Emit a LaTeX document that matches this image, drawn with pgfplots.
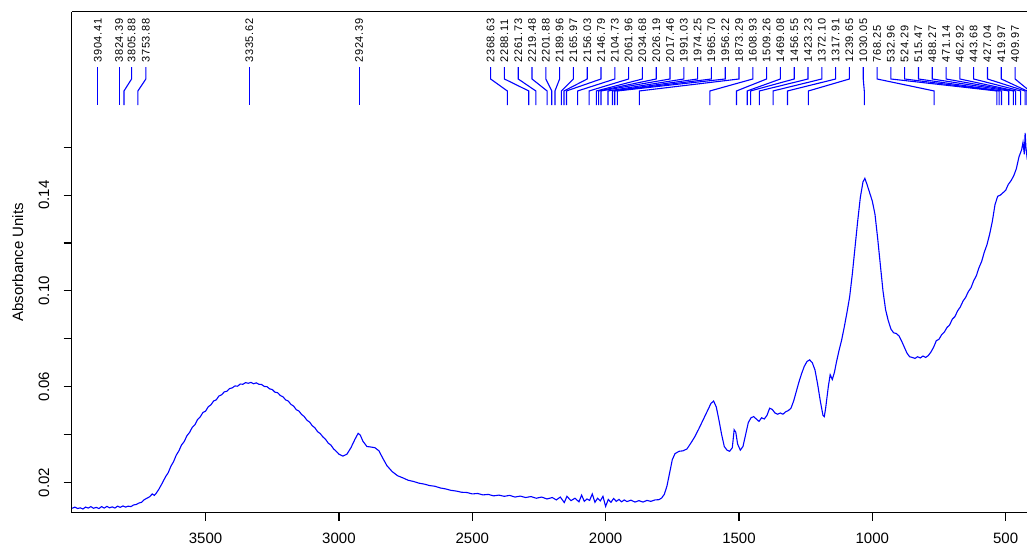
\documentclass[border=0pt]{standalone}
\usepackage{fontspec}
\setmainfont{Liberation Sans}
\newfontfamily\pkfont[LetterSpace=6]{Liberation Sans}
\usepackage{pgfplots}
\pgfplotsset{compat=1.18}
\usepackage{pgfplotstable}

% IR spectrum, wavenumber (cm-1) vs absorbance
\pgfplotstableread{
wn abs
4000 0.0092
3990 0.0097
3980 0.0091
3970 0.0094
3960 0.0089
3950 0.0097
3940 0.0093
3930 0.0099
3920 0.0092
3910 0.0096
3900 0.0091
3890 0.0099
3880 0.0093
3870 0.0100
3860 0.0094
3850 0.0098
3840 0.0093
3830 0.0101
3820 0.0096
3810 0.0102
3800 0.0097
3790 0.0101
3780 0.0099
3770 0.0106
3760 0.0108
3750 0.0114
3740 0.0117
3730 0.0128
3720 0.0134
3710 0.0140
3700 0.0152
3692 0.0146
3685 0.0155
3675 0.0172
3665 0.0192
3650 0.0224
3640 0.0241
3630 0.0268
3620 0.0287
3610 0.0314
3600 0.0332
3590 0.0357
3580 0.0371
3570 0.0395
3560 0.0409
3550 0.0430
3540 0.0441
3530 0.0463
3520 0.0474
3510 0.0492
3500 0.0498
3490 0.0516
3480 0.0524
3470 0.0540
3460 0.0545
3450 0.0561
3440 0.0566
3430 0.0578
3420 0.0581
3410 0.0592
3400 0.0595
3390 0.0603
3380 0.0602
3370 0.0611
3360 0.0610
3350 0.0617
3340 0.0614
3330 0.0618
3320 0.0612
3310 0.0616
3300 0.0610
3290 0.0609
3280 0.0601
3270 0.0600
3260 0.0591
3250 0.0588
3240 0.0577
3230 0.0575
3220 0.0563
3210 0.0558
3200 0.0545
3190 0.0540
3180 0.0526
3170 0.0519
3160 0.0504
3150 0.0498
3140 0.0484
3130 0.0475
3120 0.0460
3110 0.0452
3100 0.0437
3090 0.0428
3080 0.0412
3070 0.0404
3060 0.0390
3050 0.0380
3040 0.0364
3030 0.0356
3020 0.0340
3010 0.0330
3000 0.0318
2985 0.0310
2970 0.0318
2955 0.0345
2940 0.0380
2928 0.0405
2920 0.0398
2910 0.0372
2895 0.0350
2880 0.0348
2865 0.0345
2850 0.0332
2835 0.0300
2820 0.0270
2800 0.0245
2780 0.0228
2760 0.0219
2740 0.0209
2720 0.0204
2700 0.0197
2680 0.0193
2660 0.0187
2640 0.0184
2620 0.0177
2600 0.0173
2580 0.0167
2560 0.0164
2540 0.0159
2520 0.0158
2500 0.0152
2480 0.0154
2460 0.0148
2440 0.0150
2420 0.0144
2400 0.0147
2380 0.0142
2360 0.0146
2340 0.0139
2320 0.0143
2300 0.0137
2280 0.0141
2260 0.0134
2240 0.0139
2220 0.0131
2200 0.0137
2185 0.0127
2170 0.0139
2155 0.0116
2145 0.0142
2130 0.0124
2115 0.0134
2100 0.0119
2090 0.0147
2080 0.0121
2070 0.0131
2060 0.0125
2050 0.0152
2040 0.0117
2030 0.0134
2020 0.0123
2010 0.0142
2000 0.0100
1990 0.0129
1980 0.0117
1970 0.0133
1960 0.0121
1950 0.0129
1940 0.0119
1930 0.0127
1920 0.0120
1905 0.0126
1890 0.0118
1875 0.0124
1860 0.0118
1845 0.0125
1830 0.0121
1815 0.0127
1800 0.0128
1790 0.0135
1780 0.0150
1770 0.0185
1760 0.0240
1750 0.0295
1740 0.0320
1725 0.0330
1710 0.0332
1695 0.0340
1680 0.0365
1665 0.0392
1650 0.0425
1635 0.0460
1620 0.0495
1605 0.0530
1595 0.0540
1585 0.0515
1575 0.0460
1565 0.0400
1555 0.0350
1545 0.0335
1535 0.0330
1525 0.0345
1518 0.0420
1512 0.0410
1505 0.0360
1495 0.0335
1485 0.0350
1475 0.0400
1465 0.0450
1455 0.0470
1445 0.0475
1435 0.0465
1425 0.0455
1415 0.0470
1405 0.0465
1395 0.0480
1385 0.0510
1375 0.0505
1365 0.0490
1355 0.0485
1345 0.0490
1335 0.0485
1325 0.0495
1315 0.0500
1305 0.0510
1295 0.0540
1285 0.0580
1275 0.0620
1265 0.0655
1255 0.0685
1245 0.0705
1235 0.0712
1225 0.0700
1215 0.0670
1205 0.0610
1195 0.0540
1185 0.0480
1180 0.0475
1175 0.0510
1165 0.0600
1158 0.0650
1150 0.0630
1142 0.0660
1135 0.0700
1125 0.0750
1115 0.0795
1105 0.0850
1095 0.0910
1085 0.0975
1075 0.1070
1065 0.1180
1055 0.1290
1045 0.1390
1035 0.1455
1028 0.1470
1020 0.1445
1010 0.1410
1000 0.1375
990 0.1320
980 0.1220
970 0.1110
960 0.1000
950 0.0920
940 0.0875
930 0.0840
920 0.0825
910 0.0822
900 0.0812
890 0.0790
880 0.0765
870 0.0740
860 0.0725
850 0.0722
840 0.0718
830 0.0725
820 0.0720
810 0.0728
800 0.0722
790 0.0730
780 0.0745
770 0.0765
760 0.0792
750 0.0798
740 0.0817
730 0.0828
720 0.0847
710 0.0858
700 0.0882
690 0.0893
680 0.0917
670 0.0933
660 0.0957
650 0.0973
640 0.0997
630 0.1013
620 0.1042
610 0.1063
600 0.1097
590 0.1123
580 0.1162
570 0.1193
560 0.1237
550 0.1290
540 0.1360
530 0.1395
520 0.1400
510 0.1410
500 0.1420
490 0.1445
480 0.1460
470 0.1480
460 0.1510
450 0.1560
440 0.1590
435 0.1620
430 0.1570
427 0.1660
424 0.1600
420 0.1560
415 0.1580
}\spectrum

% peak marker: #1 peak position, #2 where its label sits
\newcommand\pk[2]{%
  \draw[blue,line width=1.1pt] (axis cs:#2,0.1935) -- (axis cs:#2,0.1885)
    -- (axis cs:#1,0.1835) -- (axis cs:#1,0.1776);
  \node[rotate=90,anchor=west,inner sep=0pt,font=\pkfont\fontsize{11}{11}\selectfont]
    at (axis cs:#2,0.1953) {#1};}

\begin{document}
\begin{tikzpicture}
\begin{axis}[
  scale only axis, width=955pt, height=501pt,
  x dir=reverse, xmin=420, xmax=4002, ymin=0.0073, ymax=0.2166,
  axis x line*=bottom, axis y line*=left,
  axis line style={line width=1.2pt},
  every tick/.style={black,line width=1.2pt},
  tick align=outside, major tick length=8pt,
  xtick={500,1000,...,3500},
  xticklabels={500,1000,1500,2000,2500,3000,3500},
  xticklabel style={yshift=-9pt},
  ytick={0.02,0.04,...,0.16},
  yticklabels={0.02,,0.06,,0.10,,0.14,},
  yticklabel style={xshift=-11pt,rotate=90,anchor=south},
  ticklabel style={font=\fontsize{15}{15}\selectfont},
  ylabel={Absorbance Units},
  every axis y label/.style={at={(rel axis cs:0,0.5)},xshift=-54pt,rotate=90,
    font=\fontsize{15}{15}\selectfont},
]
\addplot[blue,line width=1.1pt] table[x=wn,y=abs] {\spectrum};
\draw[line width=1.2pt] (rel axis cs:0,1) -- (rel axis cs:1,1);
% peaks labelled at their own position
\pk{3904.41}{3904.41}
\pk{3824.39}{3824.39}
\pk{3805.88}{3777.5}
\pk{3753.88}{3724}
\pk{3335.62}{3335.62}
\pk{2924.39}{2924.39}
% crowded peaks, labels spread evenly
\pk{2368.63}{2431.25}
\pk{2288.11}{2379.5}
\pk{2261.73}{2327.75}
\pk{2219.48}{2276}
\pk{2201.88}{2224.25}
\pk{2189.96}{2172.5}
\pk{2165.97}{2120.75}
\pk{2156.03}{2069}
\pk{2146.79}{2017.25}
\pk{2104.73}{1965.5}
\pk{2061.96}{1913.75}
\pk{2034.68}{1862}
\pk{2026.19}{1810.25}
\pk{2017.46}{1758.5}
\pk{1991.03}{1706.75}
\pk{1974.25}{1655}
\pk{1965.70}{1603.25}
\pk{1956.22}{1551.5}
\pk{1873.29}{1499.75}
\pk{1608.93}{1448}
\pk{1509.26}{1396.25}
\pk{1469.08}{1344.5}
\pk{1456.55}{1292.75}
\pk{1423.23}{1241}
\pk{1372.10}{1189.25}
\pk{1317.91}{1137.5}
\pk{1239.65}{1085.75}
\pk{1030.05}{1034}
\pk{768.25}{982.25}
\pk{532.96}{930.5}
\pk{524.29}{878.75}
\pk{515.47}{827}
\pk{488.27}{775.25}
\pk{471.14}{723.5}
\pk{462.92}{671.75}
\pk{443.68}{620}
\pk{427.04}{568.25}
\pk{419.97}{516.5}
\pk{409.97}{464.75}
\end{axis}
\pgfresetboundingbox
\path[use as bounding box] ([xshift=-71.7pt,yshift=-34.3pt]current axis.south west)
  rectangle ([yshift=11.7pt]current axis.north east);
\end{tikzpicture}
\end{document}
